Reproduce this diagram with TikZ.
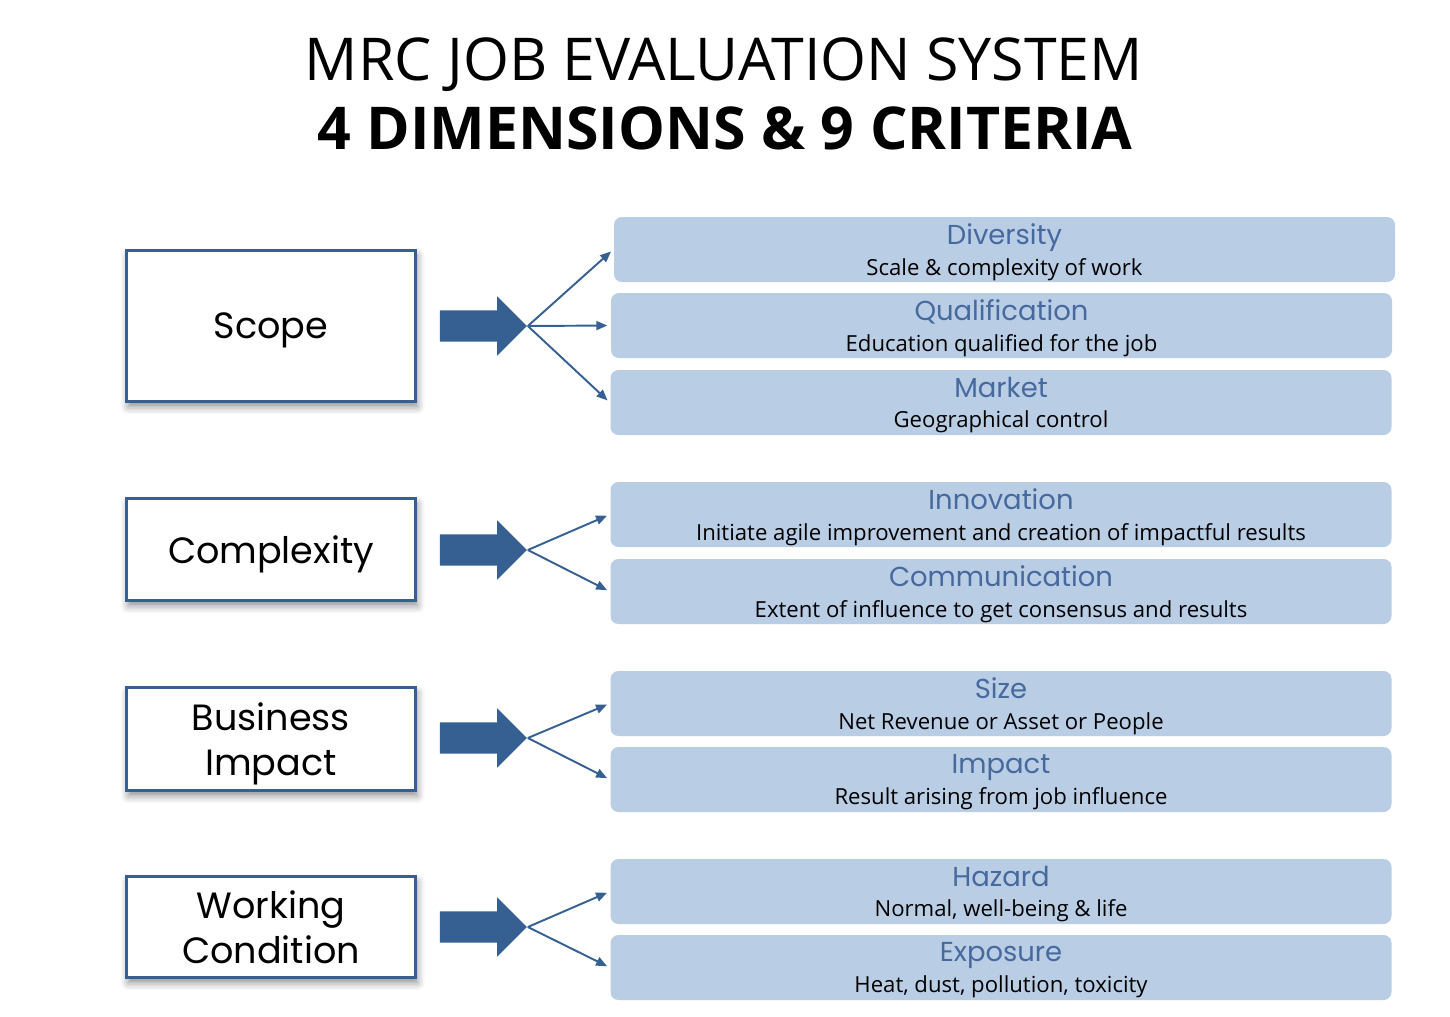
\documentclass[tikz,border=0pt]{standalone}
\usepackage{fontspec}
\setmainfont{Open Sans}
\newfontfamily\gothic{Poppins}
\newfontfamily\titlefont{Open Sans}
\usetikzlibrary{shapes.arrows,arrows.meta,shadows.blur}
\definecolor{mrcblue}{HTML}{376092}
\definecolor{mrcfill}{HTML}{B9CDE5}
\definecolor{mrctext}{HTML}{46699E}
\newcommand\crithead[1]{{\gothic\fontsize{7.8}{7.8}\selectfont\color{mrctext}#1}}

\begin{document}
\begin{tikzpicture}
  \tikzset{
  dim/.style={draw=mrcblue,line width=0.9pt,fill=white,minimum width=2.89cm,align=center,
    font=\gothic\fontsize{10.4}{12.8}\selectfont,
    blur shadow={shadow xshift=0.5pt,shadow yshift=-1.5pt,shadow blur steps=6,shadow opacity=45}},
  crit/.style={fill=mrcfill,rounded corners=0.08cm,minimum width=7.81cm,minimum height=0.65cm,
    inner sep=0pt,align=center,text depth=-2.4pt,font=\fontsize{6.3}{8.6}\selectfont},
  bigarrow/.style={single arrow,fill=mrcblue,inner xsep=0pt,inner ysep=0.15cm,
    text height=0pt,text depth=0pt,minimum height=0.87cm,single arrow head extend=0.14cm},
  link/.style={draw=mrcblue,line width=0.55pt,-{Triangle[length=0.11cm,width=0.09cm]},shorten >=0.03cm},
  }
  \useasboundingbox (0,0) rectangle (14.5,-10.16);

  % the title
  \node[anchor=base,font=\titlefont\fontsize{16.8}{16.8}\selectfont] (t1) at (7.24,-0.80) {MRC JOB EVALUATION SYSTEM};
  \node[anchor=base,font=\titlefont\bfseries\fontsize{16.8}{16.8}\selectfont] (t2) at (7.25,-1.49) {4 DIMENSIONS \& 9 CRITERIA};

  % the dimensions
  \node[dim,minimum height=1.51cm,text depth=-3.8pt] (scope) at (2.71,-3.26) {Scope};
  \node[dim,minimum height=1.02cm,text depth=-1.8pt] (cplx) at (2.71,-5.495) {Complexity};
  \node[dim,minimum height=1.03cm,text depth=-1.6pt] (biz) at (2.71,-7.39) {Business\\Impact};
  \node[dim,minimum height=1.01cm] (work) at (2.71,-9.27) {Working\\Condition};

  % the big arrows
  \node[bigarrow] (a1) at (4.755,-3.26) {};
  \node[bigarrow] (a2) at (4.755,-5.50) {};
  \node[bigarrow] (a3) at (4.755,-7.38) {};
  \node[bigarrow] (a4) at (4.755,-9.27) {};

  % the criteria
  \node[crit] (div) at (10.045,-2.495) {\crithead{Diversity}\\Scale \& complexity of work};
  \node[crit] (qual) at (10.015,-3.255) {\crithead{Qualification}\\Education qualified for the job};
  \node[crit] (mkt) at (10.01,-4.025) {\crithead{Market}\\Geographical control};
  \node[crit] (inno) at (10.01,-5.145) {\crithead{Innovation}\\Initiate agile improvement and creation of impactful results};
  \node[crit] (comm) at (10.01,-5.915) {\crithead{Communication}\\Extent of influence to get consensus and results};
  \node[crit] (size) at (10.01,-7.035) {\crithead{Size}\\Net Revenue or Asset or People};
  \node[crit] (imp) at (10.01,-7.795) {\crithead{Impact}\\Result arising from job influence};
  \node[crit] (haz) at (10.01,-8.915) {\crithead{Hazard}\\Normal, well-being \& life};
  \node[crit] (exp) at (10.01,-9.675) {\crithead{Exposure}\\Heat, dust, pollution, toxicity};

  % the connection between arrows and criteria
  \draw[link] (a1.tip) -- (div.west);
  \draw[link] (a1.tip) -- (qual.west);
  \draw[link] (a1.tip) -- (mkt.west);
  \draw[link] (a2.tip) -- (inno.west);
  \draw[link] (a2.tip) -- (comm.west);
  \draw[link] (a3.tip) -- (size.west);
  \draw[link] (a3.tip) -- (imp.west);
  \draw[link] (a4.tip) -- (haz.west);
  \draw[link] (a4.tip) -- (exp.west);
\end{tikzpicture}
\end{document}
